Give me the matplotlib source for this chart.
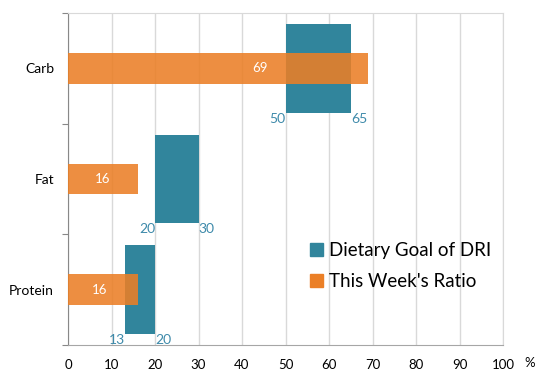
import matplotlib
matplotlib.use("Agg")
import matplotlib.pyplot as plt
from matplotlib.patches import Patch

categories = ["Protein", "Fat", "Carb"]
goal_low = [13, 20, 50]
goal_high = [20, 30, 65]
week_ratio = [16, 16, 69]
xticks = [0, 10, 20, 30, 40, 50, 60, 70, 80, 90, 100]

TEAL = "#31859C"
ORANGE = "#EB7F26"
LABEL_TEAL = "#3E8AAA"
FONT = ["Lato", "DejaVu Sans"]
plt.rcParams["font.family"] = FONT

fig = plt.figure(figsize=(5.41, 3.75), dpi=100)
ax = fig.add_axes([68 / 541, 30 / 375, 435 / 541, 332 / 375])

ys = list(range(len(categories)))
widths = [h - l for l, h in zip(goal_low, goal_high)]
ax.barh(ys, widths, left=goal_low, height=0.8, color=TEAL, zorder=2)
ax.barh(ys, week_ratio, height=0.28, color=ORANGE, alpha=0.88, zorder=3)

label_frac = [0.46, 0.5, 0.64]
for y, v, f in zip(ys, week_ratio, label_frac):
    ax.text(v * f, y, str(v), color="white", ha="center", va="center",
            fontsize=9.5, zorder=4)
for y, lo, hi in zip(ys, goal_low, goal_high):
    ax.text(lo, y - 0.40, str(lo), color=LABEL_TEAL, ha="right", va="top",
            fontsize=10, zorder=4)
    ax.text(hi, y - 0.40, str(hi), color=LABEL_TEAL, ha="left", va="top",
            fontsize=10, zorder=4)

ax.set_xlim(0, 100)
ax.set_ylim(-0.5, 2.5)
ax.set_xticks(xticks)
ax.set_xticklabels([str(t) for t in xticks], fontsize=9.5)
ax.tick_params(axis="x", length=0, pad=10)
ax.set_yticks([-0.5, 0.5, 1.5, 2.5])
ax.set_yticklabels([])
ax.set_yticks(ys, minor=True)
ax.set_yticklabels(categories, minor=True, fontsize=10)
ax.tick_params(axis="y", which="major", length=4, color="#888888")
ax.tick_params(axis="y", which="minor", length=0, pad=10)
ax.grid(axis="x", color="#D9D9D9", linewidth=1, zorder=0)
for s in ["top", "right"]:
    ax.spines[s].set_color("#D9D9D9")
ax.spines["left"].set_color("#888888")
ax.spines["bottom"].set_color("#A6A6A6")

fig.text(530 / 541, 12 / 375, "%", fontsize=9.5, ha="center", va="center")

handles = [Patch(color=TEAL), Patch(color=ORANGE)]
ax.legend(handles, ["Dietary Goal of DRI", "This Week's Ratio"],
          loc="upper left", bbox_to_anchor=(0.557, 0.31), frameon=False,
          fontsize=13.5, handlelength=0.7, handleheight=0.7, handletextpad=0.3,
          labelspacing=0.75, borderpad=0, borderaxespad=0)

fig.savefig("out.png", dpi=100)
